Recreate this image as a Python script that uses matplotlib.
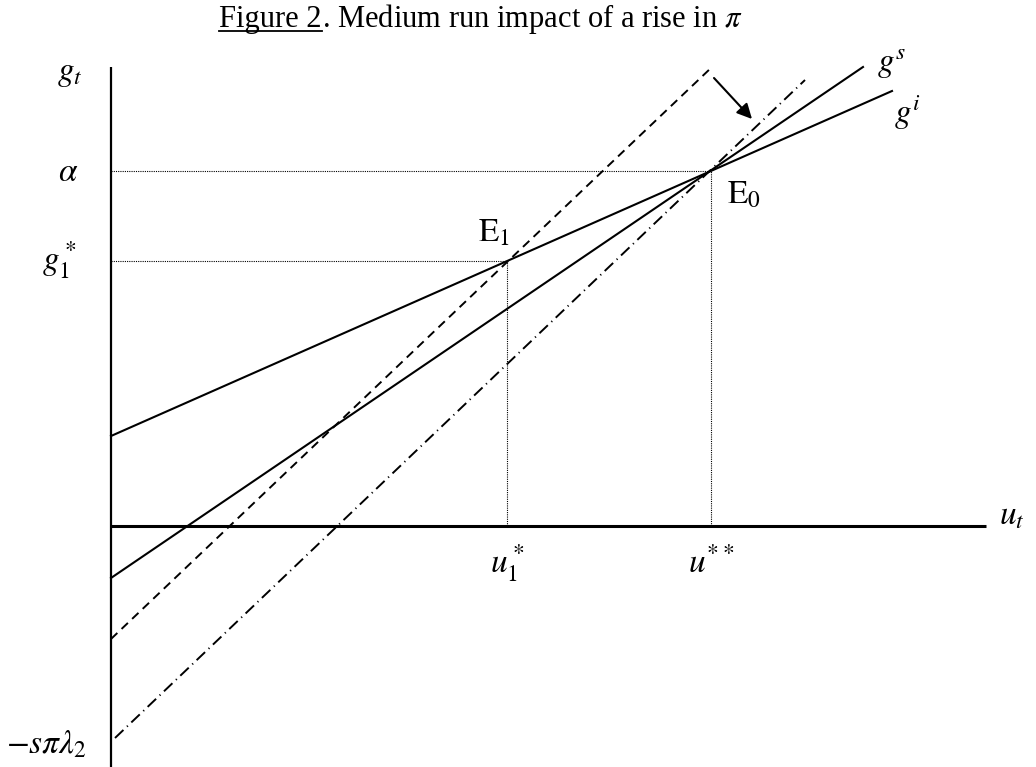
import matplotlib.pyplot as plt

plt.rcParams['mathtext.fontset'] = 'stix'
plt.rcParams['font.family'] = 'Liberation Serif'

# equilibrium points (u, g)
u_star2 = 6.0     # u**
alpha = 3.55
u_star1 = 3.96    # u1*
g_star1 = 2.65    # g1*

# lines: end points
gi_u = [0.0, 7.81]
gi_g = [0.90, 4.35]
gs_u = [0.0, 7.52]
gs_g = [-0.52, 4.59]
gs_old_u = [0.0, 6.01]
gs_old_g = [-1.13, 4.59]
gs_new_u = [0.04, 6.94]
gs_new_g = [-2.12, 4.46]

# arrow showing the shift
arrow_from = (6.03, 4.48)
arrow_to = (6.41, 4.07)

fig = plt.figure(figsize=(10.36, 7.67), dpi=100)
ax = fig.add_axes([0, 0, 1, 1])
ax.set_xlim(-1.11, 9.25)
ax.set_ylim(-2.41, 5.26)
ax.axis('off')

# axes of the diagram
ax.plot([0, 0], [-2.41, 4.59], color='black', lw=1.6, solid_capstyle='butt')
ax.plot([0, 8.75], [0, 0], color='black', lw=2.2, solid_capstyle='butt')

# dotted guides
dot = dict(color='black', lw=0.8, linestyle=(0, (1, 1)))
ax.plot([0, u_star2], [alpha, alpha], **dot)
ax.plot([u_star2, u_star2], [0, alpha], **dot)
ax.plot([0, u_star1], [g_star1, g_star1], **dot)
ax.plot([u_star1, u_star1], [0, g_star1], **dot)

# curves
ax.plot(gi_u, gi_g, color='black', lw=1.5)
ax.plot(gs_u, gs_g, color='black', lw=1.5)
ax.plot(gs_old_u, gs_old_g, color='black', lw=1.4, linestyle=(0, (4.5, 3)))
ax.plot(gs_new_u, gs_new_g, color='black', lw=1.4, linestyle=(0, (6, 2.5, 0.6, 2.5)))

ax.annotate('', xy=arrow_to, xytext=arrow_from,
            arrowprops=dict(arrowstyle='-|>,head_length=0.9,head_width=0.45',
                            color='black', lw=1.5, shrinkA=0, shrinkB=0))

fs = 24
ax.text(-0.41, 4.52, r'$g_t$', fontsize=fs, ha='center', va='center')
ax.text(-0.43, 3.53, r'$\alpha$', fontsize=fs, ha='center', va='center')
ax.text(-0.52, 2.66, r'$g_1^*$', fontsize=fs, ha='center', va='center')
ax.text(-0.64, -2.19, r'$-s\pi\lambda_2$', fontsize=fs, ha='center', va='center')
ax.text(3.83, 2.93, r'$\mathrm{E}_1$', fontsize=fs, ha='center', va='center')
ax.text(6.33, 3.31, r'$\mathrm{E}_0$', fontsize=fs, ha='center', va='center')
ax.text(u_star1, -0.37, r'$u_1^*$', fontsize=fs, ha='center', va='center')
ax.text(u_star2, -0.37, r'$u^{**}$', fontsize=fs, ha='center', va='center')
ax.text(9.01, 0.1, r'$u_t$', fontsize=fs, ha='center', va='center')
ax.text(7.81, 4.62, r'$g^s$', fontsize=fs, ha='center', va='center')
ax.text(7.96, 4.13, r'$g^i$', fontsize=fs, ha='center', va='center')

# title with underlined "Figure 2"
tsize = 22
t1 = fig.text(219 / 1036, 1 - 27 / 767, 'Figure 2', fontsize=tsize, ha='left', va='baseline')
fig.canvas.draw()
bb = t1.get_window_extent()
fig.text(bb.x1 / 1036, 1 - 27 / 767, r'. Medium run impact of a rise in $\pi$',
         fontsize=tsize, ha='left', va='baseline')
y_ul = bb.y0 + 3
fig.add_artist(plt.Line2D([bb.x0 / 1036, bb.x1 / 1036], [y_ul / 767, y_ul / 767],
                          color='black', lw=1.3))

fig.savefig('out.png', dpi=100)
